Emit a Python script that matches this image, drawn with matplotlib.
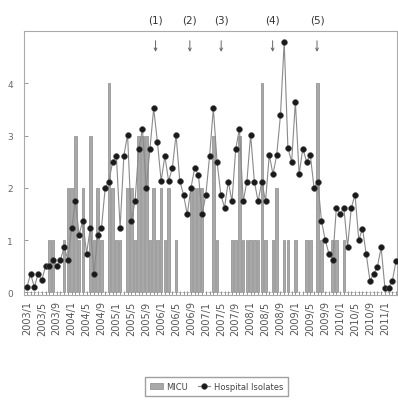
import matplotlib
matplotlib.use("Agg")
import matplotlib.pyplot as plt
import numpy as np

# monthly tick labels, 2003/1 .. 2011/1 every 4 months
tick_labels = ['2003/1', '2003/5', '2003/9', '2004/1', '2004/5', '2004/9',
               '2005/1', '2005/5', '2005/9', '2006/1', '2006/5', '2006/9',
               '2007/1', '2007/5', '2007/9', '2008/1', '2008/5', '2008/9',
               '2009/1', '2009/5', '2009/9', '2010/1', '2010/5', '2010/9',
               '2011/1']

# MICU counts per month (2003/1 .. 2011/4)
micu = [0, 0, 0, 0, 0, 0, 1, 1, 0, 0,
        1, 2, 2, 3, 1, 2, 0, 3, 1, 2,
        1, 0, 4, 2, 1, 1, 0, 2, 2, 1,
        3, 3, 3, 1, 2, 1, 2, 1, 2, 0,
        1, 0, 0, 0, 2, 2, 2, 2, 0, 0,
        3, 1, 0, 0, 0, 1, 1, 3, 1, 1,
        1, 1, 1, 4, 1, 0, 1, 2, 0, 1,
        1, 0, 1, 0, 0, 1, 1, 0, 4, 1,
        0, 0, 1, 1, 0, 1, 0, 0, 0, 0,
        0, 0, 0, 0, 0, 0, 0, 0, 0, 0]

# hospital isolates per month
hospital = [0.10, 0.35, 0.10, 0.35, 0.23, 0.50, 0.50, 0.62, 0.50, 0.62,
            0.87, 0.62, 1.23, 1.74, 1.10, 1.37, 0.74, 1.23, 0.35, 1.10,
            1.23, 2.00, 2.12, 2.50, 2.61, 1.23, 2.61, 3.02, 1.36, 1.74,
            2.75, 3.12, 2.00, 2.75, 3.52, 2.88, 2.13, 2.61, 2.13, 2.38,
            3.02, 2.13, 1.87, 1.49, 2.00, 2.38, 2.25, 1.49, 1.87, 2.61,
            3.52, 2.50, 1.87, 1.62, 2.12, 1.74, 2.75, 3.13, 1.74, 2.12,
            3.02, 2.12, 1.74, 2.12, 1.74, 2.63, 2.26, 2.63, 3.39, 4.79,
            2.76, 2.50, 3.65, 2.26, 2.75, 2.50, 2.63, 2.00, 2.12, 1.37,
            1.00, 0.74, 0.62, 1.62, 1.49, 1.62, 0.86, 1.62, 1.87, 1.00,
            1.22, 0.73, 0.22, 0.35, 0.49, 0.86, 0.09, 0.09, 0.22, 0.60]

# event markers (month index) and their labels
events = [34.5, 43.7, 52.1, 65.9, 77.8]
event_labels = ['(1)', '(2)', '(3)', '(4)', '(5)']

months = np.arange(len(micu))

fig = plt.figure(figsize=(3.98, 4.02), dpi=100)
ax = fig.add_axes([0.061, 0.264, 0.936, 0.656])

bars = ax.bar(months, micu, width=0.7, color='#a8a8a8', edgecolor='#8a8a8a',
              linewidth=0.5, label='MICU', zorder=2)
line, = ax.plot(months, hospital, color='#8a8a8a', linewidth=0.8, marker='o',
                markersize=4.2, markerfacecolor='#1a1a1a',
                markeredgecolor='#555555', markeredgewidth=0.4,
                label='Hospital Isolates', zorder=3)

for x, lab in zip(events, event_labels):
    ax.annotate('', xy=(x, 4.55), xytext=(x, 4.87),
                arrowprops=dict(arrowstyle='->', color='#666666', lw=0.7,
                                mutation_scale=5))
    ax.text(x, 5.22, lab, ha='center', va='center', fontsize=7.5,
            color='#333333')

ax.set_xlim(-0.7, 99.2)
ax.set_ylim(-0.05, 5.0)
ax.set_xticks(np.arange(0, 97, 4))
ax.set_xticklabels(tick_labels, rotation=90, fontsize=7, color='#555555')
ax.set_xticks(months, minor=True)
ax.set_yticks([0, 1, 2, 3, 4])
ax.set_yticklabels(['0', '1', '2', '3', '4'], fontsize=6.5, color='#666666')
ax.tick_params(axis='both', which='both', direction='in', length=3,
               color='#888888', width=0.6)
ax.tick_params(axis='x', which='major', pad=4)
ax.tick_params(axis='y', pad=8)
for sp in ax.spines.values():
    sp.set_color('#aaaaaa')
    sp.set_linewidth(0.8)

leg = fig.legend([bars, line], ['MICU', 'Hospital Isolates'],
                 loc='center', bbox_to_anchor=(0.544, 0.037), ncol=2,
                 fontsize=6, fancybox=False, edgecolor='#888888',
                 handlelength=1.5, handletextpad=0.4, columnspacing=1.2,
                 borderpad=0.6)
for t in leg.get_texts():
    t.set_color('#444444')

fig.savefig('out.png', dpi=100)
